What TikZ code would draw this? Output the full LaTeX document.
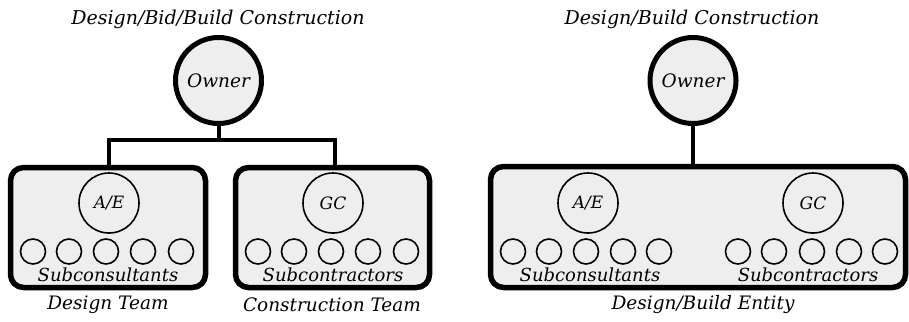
\documentclass[tikz,border=0pt]{standalone}
\usepackage{fontspec}
\setmainfont{DejaVu Serif}
\definecolor{panel}{HTML}{EEEEEE}
\begin{document}
\begin{tikzpicture}[x=1pt,y=-1pt,
  every node/.style={font=\itshape},
  title/.style={font=\itshape\fontsize{19}{22}\selectfont},
  label/.style={font=\itshape\fontsize{18.5}{22}\selectfont},
  sublabel/.style={font=\itshape\fontsize{18}{21}\selectfont,anchor=base,inner sep=0pt},
  owner/.style={circle,draw,line width=5pt,fill=panel,minimum size=86pt,inner sep=0pt,font=\itshape\fontsize{18.5}{22}\selectfont},
  lead/.style={circle,draw,line width=1.6pt,minimum size=60pt,inner sep=0pt,font=\itshape\fontsize{17}{20}\selectfont},
  sub/.style={circle,draw,line width=1.6pt,minimum size=25pt,inner sep=0pt},
  team/.style={draw,line width=5.5pt,rounded corners=13pt,fill=panel},
  link/.style={line width=4pt}]
\useasboundingbox (0,0) rectangle (909,321);

% ---- Design/Bid/Build ----
\node[title] (t1) at (218,19) {Design/Bid/Build Construction};
\draw[team] (10.5,167.5) rectangle (205.5,287.5);
\draw[team] (235.5,167.5) rectangle (429.5,287.5);
\node[owner] (o1) at (218.5,80.5) {Owner};
\node[lead] (ae1) at (109,203) {A/E};
\node[lead] (gc1) at (333,203) {GC};
\foreach \x [count=\i] in {33,69,106,143,181}
  \node[sub] (sa\i) at (\x,251.5) {};
\foreach \x [count=\i] in {258,294,331,368,406}
  \node[sub] (sb\i) at (\x,251.5) {};
\node[sublabel] (s1) at (108,281) {Subconsultants};
\node[sublabel] (s2) at (333,281) {Subcontractors};
\node[label] (d1) at (108,305) {Design Team};
\node[label] (d2) at (332,305) {Construction Team};
\coordinate (j1) at (218.5,139.5);
\coordinate (jl) at (109,139.5);
\coordinate (jr) at (335,139.5);
\draw[link] (o1.south) -- (j1);
\draw[link,line join=miter] (109,165) -- (jl) -- (jr) -- (335,165);

% ---- Design/Build ----
\node[title] (t2) at (692,19) {Design/Build Construction};
\draw[team] (490.5,166.5) rectangle (905.5,287.5);
\node[owner] (o2) at (693,80.5) {Owner};
\node[lead] (ae2) at (588,203) {A/E};
\node[lead] (gc2) at (813,203) {GC};
\foreach \x [count=\i] in {513,549,586,623,659}
  \node[sub] (sc\i) at (\x,251.5) {};
\foreach \x [count=\i] in {738,774,812,849,885}
  \node[sub] (sd\i) at (\x,251.5) {};
\node[sublabel] (s3) at (590,281) {Subconsultants};
\node[sublabel] (s4) at (808,281) {Subcontractors};
\node[label] (d3) at (703,305) {Design/Build Entity};
\draw[link] (o2.south) -- (693,164);
\end{tikzpicture}
\end{document}
